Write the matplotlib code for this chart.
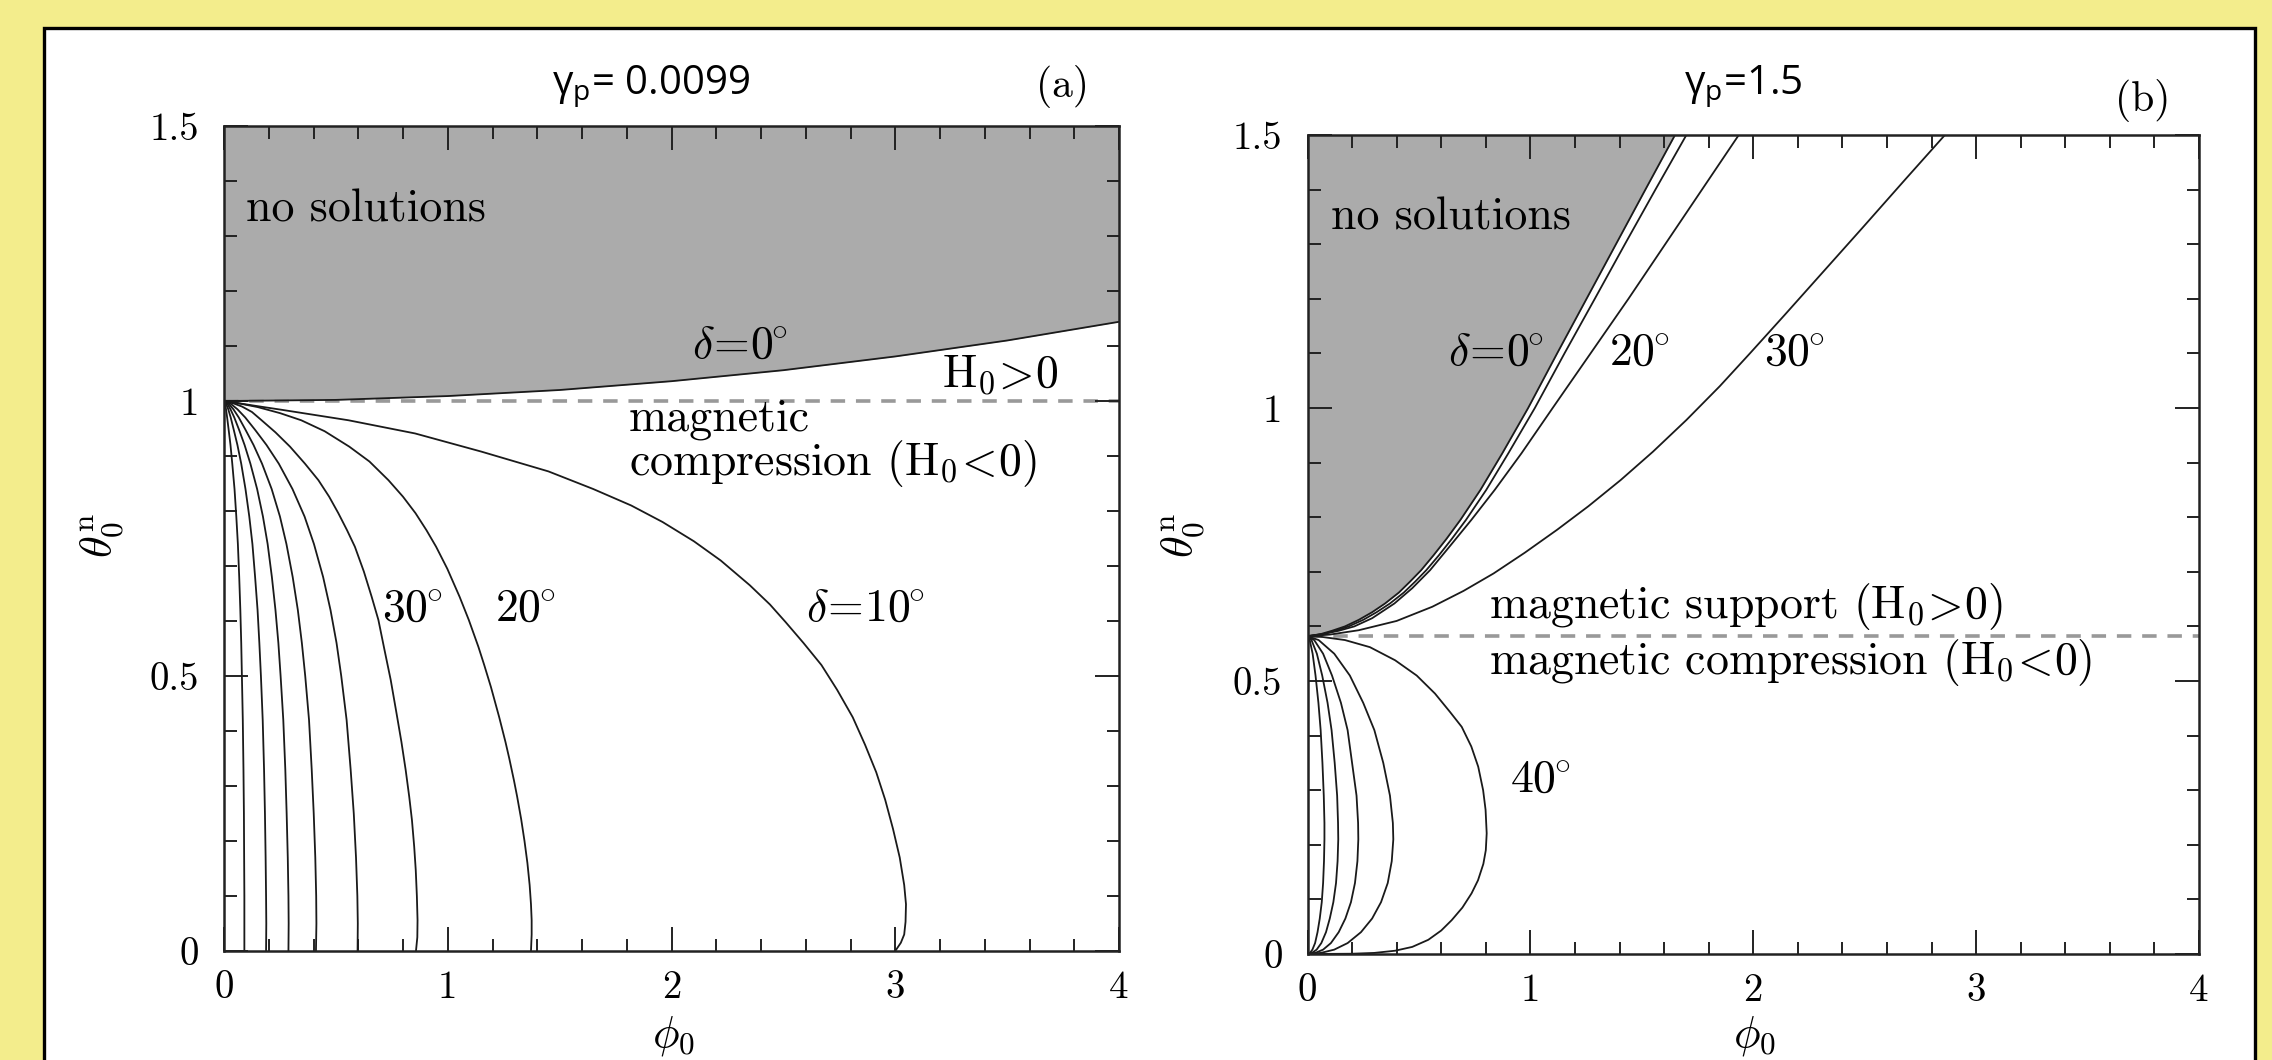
import matplotlib.pyplot as plt
from matplotlib.patches import Rectangle
from matplotlib.ticker import FixedLocator, FixedFormatter, MultipleLocator

plt.rcParams['font.family'] = 'cmr10'
plt.rcParams['mathtext.fontset'] = 'cm'
plt.rcParams['axes.unicode_minus'] = False

# ---- data: panel (a), gamma_p = 0.0099 ----
a_d0_phi = [0.0, 0.5, 1.0, 1.5, 2.0, 2.5, 3.0, 3.5, 4.0]
a_d0_theta = [1.0, 1.002, 1.009, 1.02, 1.036, 1.056, 1.081, 1.11, 1.144]

a_d10_phi = [0.0, 0.08, 0.16, 0.258, 0.556, 0.854, 1.15, 1.45, 1.65, 1.82, 1.96, 2.10, 2.22, 2.35, 2.44, 2.51,
             2.59, 2.67, 2.74, 2.81, 2.865, 2.915, 2.955, 2.99, 3.02, 3.04, 3.048, 3.046, 3.04, 3.025, 3.00]
a_d10_theta = [1.0, 0.995, 0.99, 0.984, 0.965, 0.941, 0.908, 0.872, 0.84, 0.81, 0.78, 0.745, 0.71, 0.665, 0.63, 0.598,
               0.56, 0.52, 0.475, 0.425, 0.375, 0.325, 0.275, 0.222, 0.17, 0.12, 0.085, 0.053, 0.03, 0.015, 0.0]

a_d20_phi = [0.0, 0.05, 0.15, 0.25, 0.345, 0.45, 0.56, 0.65, 0.735, 0.80, 0.856, 0.905, 0.948, 0.998, 1.053, 1.094,
             1.137, 1.163, 1.193, 1.23, 1.258, 1.275, 1.296, 1.31, 1.328, 1.343, 1.356, 1.366, 1.372, 1.375, 1.375, 1.372]
a_d20_theta = [1.0, 0.997, 0.989, 0.978, 0.965, 0.945, 0.917, 0.89, 0.856, 0.826, 0.796, 0.765, 0.735, 0.695, 0.644, 0.602,
               0.553, 0.52, 0.48, 0.425, 0.38, 0.35, 0.31, 0.281, 0.24, 0.20, 0.16, 0.12, 0.085, 0.056, 0.03, 0.0]

a_d30_phi = [0.0, 0.04, 0.08, 0.125, 0.168, 0.23, 0.295, 0.362, 0.422, 0.47, 0.511, 0.55, 0.585, 0.625, 0.66, 0.69,
             0.716, 0.745, 0.772, 0.793, 0.812, 0.828, 0.84, 0.85, 0.857, 0.862, 0.865, 0.864, 0.858]
a_d30_theta = [1.0, 0.996, 0.99, 0.98, 0.965, 0.943, 0.917, 0.886, 0.856, 0.826, 0.796, 0.765, 0.735, 0.69, 0.644, 0.602,
               0.55, 0.493, 0.43, 0.38, 0.329, 0.28, 0.238, 0.19, 0.147, 0.10, 0.056, 0.025, 0.0]

# inner fan (delta = 40..80) share the same theta samples
a_fan_theta = [1.0, 0.995, 0.985, 0.97, 0.947, 0.92, 0.886, 0.84, 0.79, 0.74, 0.68, 0.62, 0.56, 0.50,
               0.42, 0.33, 0.25, 0.17, 0.10, 0.05, 0.0]
a_d40_phi = [0.0, 0.03, 0.06, 0.095, 0.14, 0.19, 0.245, 0.306, 0.36, 0.402, 0.443, 0.476, 0.503, 0.524,
             0.548, 0.566, 0.58, 0.59, 0.596, 0.598, 0.597]
a_d50_phi = [0.0, 0.021, 0.042, 0.066, 0.097, 0.132, 0.17, 0.213, 0.25, 0.279, 0.307, 0.33, 0.348, 0.363,
             0.38, 0.392, 0.401, 0.408, 0.412, 0.413, 0.411]
a_d60_phi = [0.0, 0.015, 0.029, 0.046, 0.068, 0.092, 0.118, 0.148, 0.174, 0.195, 0.214, 0.23, 0.243, 0.253,
             0.265, 0.274, 0.28, 0.285, 0.288, 0.289, 0.288]
a_d70_phi = [0.0, 0.009, 0.019, 0.03, 0.044, 0.06, 0.077, 0.096, 0.113, 0.127, 0.139, 0.15, 0.158, 0.165,
             0.173, 0.179, 0.183, 0.186, 0.188, 0.189, 0.188]
a_d80_phi = [0.0, 0.0045, 0.009, 0.014, 0.021, 0.029, 0.037, 0.047, 0.055, 0.062, 0.068, 0.073, 0.077, 0.08,
             0.084, 0.087, 0.089, 0.09, 0.091, 0.091, 0.091]

a_split = 1.0

# ---- data: panel (b), gamma_p = 1.5 ----
b_up_theta = [0.582, 0.586, 0.592, 0.600, 0.612, 0.626, 0.642, 0.662, 0.682, 0.703, 0.73, 0.76, 0.795,
              0.85, 0.917, 1.0, 1.1, 1.2, 1.3, 1.4, 1.5]
b_d0_phi = [0.0, 0.06, 0.11, 0.168, 0.23, 0.29, 0.348, 0.41, 0.46, 0.51, 0.565, 0.623, 0.686,
            0.776, 0.874, 0.99, 1.12, 1.252, 1.384, 1.516, 1.649]
b_d10_phi = [0.0, 0.07, 0.125, 0.185, 0.25, 0.31, 0.37, 0.432, 0.483, 0.533, 0.589, 0.647, 0.711,
             0.802, 0.901, 1.02, 1.153, 1.289, 1.424, 1.561, 1.70]

b_d20_theta = [0.582, 0.586, 0.592, 0.600, 0.615, 0.642, 0.67, 0.703, 0.75, 0.795, 0.85, 0.917, 1.0,
               1.1, 1.2, 1.3, 1.4, 1.5]
b_d20_phi = [0.0, 0.07, 0.14, 0.21, 0.29, 0.39, 0.47, 0.55, 0.645, 0.735, 0.84, 0.96, 1.10,
             1.27, 1.44, 1.605, 1.77, 1.935]

b_d30_theta = [0.582, 0.585, 0.593, 0.61, 0.636, 0.665, 0.697, 0.735, 0.777, 0.82, 0.868, 0.92, 0.978,
               1.04, 1.10, 1.17, 1.25, 1.33, 1.42, 1.5]
b_d30_phi = [0.0, 0.10, 0.23, 0.40, 0.56, 0.70, 0.835, 0.975, 1.12, 1.26, 1.405, 1.55, 1.70,
             1.85, 1.985, 2.14, 2.315, 2.49, 2.685, 2.86]

b_d40_phi = [0.0, 0.06, 0.168, 0.28, 0.393, 0.49, 0.572, 0.64, 0.692, 0.735, 0.766, 0.788, 0.799, 0.804,
             0.80, 0.789, 0.765, 0.736, 0.695, 0.647, 0.60, 0.542, 0.47, 0.393, 0.30, 0.20, 0.0]
b_d40_theta = [0.582, 0.581, 0.575, 0.562, 0.538, 0.51, 0.477, 0.443, 0.416, 0.38, 0.343, 0.30, 0.264, 0.221,
               0.19, 0.165, 0.135, 0.111, 0.085, 0.062, 0.043, 0.026, 0.013, 0.006, 0.002, 0.0005, 0.0]

b_fan_theta = [0.582, 0.575, 0.55, 0.51, 0.46, 0.41, 0.35, 0.29, 0.24, 0.21, 0.17, 0.13, 0.095, 0.065,
               0.04, 0.02, 0.008, 0.002, 0.0]
b_d50_phi = [0.0, 0.05, 0.12, 0.19, 0.25, 0.30, 0.34, 0.37, 0.383, 0.385, 0.378, 0.36, 0.33, 0.29,
             0.24, 0.18, 0.12, 0.06, 0.0]
b_d60_phi = [0.0, 0.03, 0.07, 0.11, 0.15, 0.18, 0.20, 0.22, 0.227, 0.228, 0.224, 0.213, 0.195, 0.17,
             0.14, 0.105, 0.07, 0.035, 0.0]
b_d70_phi = [0.0, 0.018, 0.042, 0.066, 0.09, 0.108, 0.122, 0.133, 0.137, 0.138, 0.135, 0.128, 0.116, 0.1,
             0.083, 0.062, 0.041, 0.02, 0.0]
b_d80_phi = [0.0, 0.01, 0.023, 0.036, 0.049, 0.059, 0.067, 0.073, 0.076, 0.076, 0.074, 0.07, 0.064, 0.055,
             0.045, 0.034, 0.022, 0.011, 0.0]

b_split = 0.582

x_ticks = [0, 1, 2, 3, 4]
x_labels = ['0', '1', '2', '3', '4']
y_ticks = [0, 0.5, 1, 1.5]
y_labels = ['0', '0.5', '1', '1.5']

W, H = 2272, 1060
fig = plt.figure(figsize=(W / 100, H / 100), dpi=100)
fig.patch.set_facecolor('#f3ed8c')
fig.patches.append(Rectangle((44 / W, -0.02), (2255 - 44) / W, 1.02 - 28 / H,
                             transform=fig.transFigure, facecolor='white',
                             edgecolor='black', linewidth=2.4, zorder=-10))


def style_axes(ax):
    ax.set_xlim(0, 4)
    ax.set_ylim(0, 1.5)
    ax.xaxis.set_major_locator(FixedLocator(x_ticks))
    ax.xaxis.set_major_formatter(FixedFormatter(x_labels))
    ax.yaxis.set_major_locator(FixedLocator(y_ticks))
    ax.yaxis.set_major_formatter(FixedFormatter(y_labels))
    ax.xaxis.set_minor_locator(MultipleLocator(0.2))
    ax.yaxis.set_minor_locator(MultipleLocator(0.1))
    ax.tick_params(which='both', direction='in', top=True, right=True, width=1.4, color='#222222')
    ax.tick_params(which='major', length=17)
    ax.tick_params(which='minor', length=9)
    ax.tick_params(axis='x', which='major', pad=14, labelsize=28)
    ax.tick_params(axis='y', which='major', pad=18, labelsize=28)
    for s in ax.spines.values():
        s.set_linewidth(1.8)
        s.set_color('#222222')


lw = 1.3
lc = '#1a1a1a'
fs = 33
deg = r'^{\!\!\circ}'

# panel (a)
axa = fig.add_axes([224 / W, 1 - 951 / H, 895 / W, 825 / H])
style_axes(axa)
axa.fill_between(a_d0_phi, a_d0_theta, 1.5, color='#ababab', lw=0)
axa.plot(a_d0_phi, a_d0_theta, color=lc, lw=lw)
for ph, th in [(a_d10_phi, a_d10_theta), (a_d20_phi, a_d20_theta), (a_d30_phi, a_d30_theta)]:
    axa.plot(ph, th, color=lc, lw=lw)
for ph in (a_d40_phi, a_d50_phi, a_d60_phi, a_d70_phi, a_d80_phi):
    axa.plot(ph, a_fan_theta, color=lc, lw=lw)
axa.axhline(a_split, color='#999999', lw=2.6, dashes=(4, 3), zorder=1)

axa.text(0.10, 1.347, 'no solutions', fontsize=fs, va='center')
axa.text(2.09, 1.10, r'$\delta\!=\!0' + deg + '$', fontsize=fs, va='center')
axa.text(3.21, 1.047, r'$\mathrm{H_0\!>\!0}$', fontsize=fs, va='center')
axa.text(1.81, 0.922, 'magnetic\n' + r'compression $(\mathrm{H_0}\!<\!0)$', fontsize=fs,
         va='center', linespacing=0.95)
axa.text(0.706, 0.622, r'$30' + deg + '$', fontsize=fs, va='center')
axa.text(1.209, 0.622, r'$20' + deg + '$', fontsize=fs, va='center')
axa.text(2.60, 0.622, r'$\delta\!=\!10' + deg + '$', fontsize=fs, va='center')

# panel (b)
axb = fig.add_axes([1307.5 / W, 1 - 954 / H, 891.5 / W, 819 / H])
style_axes(axb)
axb.fill_betweenx(b_up_theta, 0, b_d0_phi, color='#ababab', lw=0)
axb.plot(b_d0_phi, b_up_theta, color=lc, lw=lw)
axb.plot(b_d10_phi, b_up_theta, color=lc, lw=lw)
for ph, th in [(b_d20_phi, b_d20_theta), (b_d30_phi, b_d30_theta), (b_d40_phi, b_d40_theta)]:
    axb.plot(ph, th, color=lc, lw=lw)
for ph in (b_d50_phi, b_d60_phi, b_d70_phi, b_d80_phi):
    axb.plot(ph, b_fan_theta, color=lc, lw=lw)
axb.axhline(b_split, color='#999999', lw=2.6, dashes=(4, 3), zorder=1)

axb.text(0.105, 1.348, 'no solutions', fontsize=fs, va='center')
axb.text(0.63, 1.10, r'$\delta\!=\!0' + deg + '$', fontsize=fs, va='center')
axb.text(1.353, 1.10, r'$20' + deg + '$', fontsize=fs, va='center')
axb.text(2.05, 1.10, r'$30' + deg + '$', fontsize=fs, va='center')
axb.text(0.813, 0.636, r'magnetic support $(\mathrm{H_0}\!>\!0)$', fontsize=fs, va='center')
axb.text(0.813, 0.534, r'magnetic compression $(\mathrm{H_0}\!<\!0)$', fontsize=fs, va='center')
axb.text(0.907, 0.319, r'$40' + deg + '$', fontsize=fs, va='center')

# axis labels
for xl in (102, 1183):
    fig.text(xl / W, 1 - 536 / H, r'$\theta_0^{\rm n}$', fontsize=32, rotation=90,
             ha='center', va='center')
for xc in (673, 1754):
    fig.text(xc / W, 1 - 1036 / H, r'$\phi_0$', fontsize=32, ha='center', va='center')

# titles
fig.text(651 / W, 1 - 87 / H, r'$\mathregular{\gamma_p}$= 0.0099', fontsize=29,
         family='Open Sans', ha='center', va='center')
fig.text(1743 / W, 1 - 87 / H, r'$\mathregular{\gamma_p}$=1.5', fontsize=29,
         family='Open Sans', ha='center', va='center')
fig.text(1062 / W, 1 - 87 / H, '(a)', fontsize=30, ha='center', va='center')
fig.text(2143 / W, 1 - 101 / H, '(b)', fontsize=30, ha='center', va='center')

fig.savefig('out.png', dpi=100, facecolor=fig.get_facecolor())
